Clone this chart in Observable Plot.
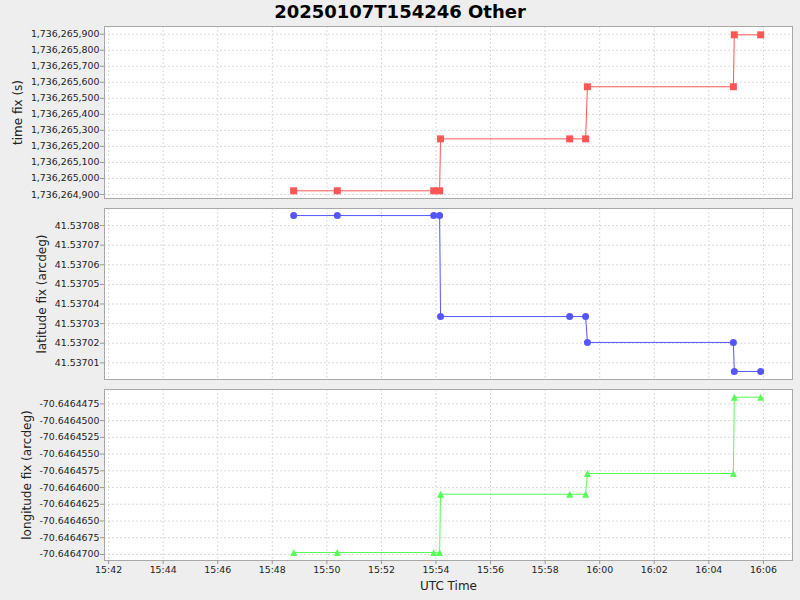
<!DOCTYPE html>
<html><head><meta charset="utf-8">
<script src="https://cdn.jsdelivr.net/npm/d3@7"></script>
<script src="https://cdn.jsdelivr.net/npm/@observablehq/plot@0.6"></script>
<style>
body{margin:0;background:#eeeeee;}
#root{position:relative;width:800px;height:600px;background:#eeeeee;overflow:hidden;font-family:"DejaVu Sans",sans-serif;}
#title{position:absolute;left:0;top:0;width:800px;text-align:center;font-weight:bold;font-size:18px;line-height:23px;color:#000;}
.panel{position:absolute;left:0;}
</style></head><body><div id="root"><div id="title"></div></div>
<script>
const chartTitle = "20250107T154246 Other";
const xAxisLabel = "UTC Time";
const receivedTimes = ["15:48:47","15:50:23","15:53:55","15:54:08","15:54:10","15:58:54","15:59:29","15:59:33","16:04:54","16:04:56","16:05:54"];
const timeFix = [1736264923,1736264923,1736264923,1736264923,1736265247,1736265247,1736265247,1736265572,1736265572,1736265896,1736265896];
const latitudeFix = [41.5370851,41.5370851,41.5370851,41.5370851,41.5370336,41.5370336,41.5370336,41.5370204,41.5370204,41.5370056,41.5370056];
const longitudeFix = [-70.6464697,-70.6464697,-70.6464697,-70.6464697,-70.6464610,-70.6464610,-70.6464610,-70.6464579,-70.6464579,-70.6464465,-70.6464465];
const timeFixTicks = [1736264900,1736265000,1736265100,1736265200,1736265300,1736265400,1736265500,1736265600,1736265700,1736265800,1736265900];
const latitudeTicks = [41.53701,41.53702,41.53703,41.53704,41.53705,41.53706,41.53707,41.53708];
const longitudeTicks = [-70.6464700,-70.6464675,-70.6464650,-70.6464625,-70.6464600,-70.6464575,-70.6464550,-70.6464525,-70.6464500,-70.6464475];
const xTickLabels = ["15:42","15:44","15:46","15:48","15:50","15:52","15:54","15:56","15:58","16:00","16:02","16:04","16:06"];
const xRange = ["15:41:51","16:07:04"];
const day = "2025-01-07";

const toDate = s => new Date(`${day}T${s}${s.length === 5 ? ":00" : ""}Z`);
document.getElementById("title").textContent = chartTitle;

const xDomain = xRange.map(toDate);
const xTicks = xTickLabels.map(toDate);
const times = receivedTimes.map(toDate);

const squareSym = {draw(ctx){ctx.moveTo(-3.5,-3.5);ctx.lineTo(3.5,-3.5);ctx.lineTo(3.5,3.5);ctx.lineTo(-3.5,3.5);ctx.closePath();}};
const triSym = {draw(ctx){ctx.moveTo(0,-3.5);ctx.lineTo(3.5,3.5);ctx.lineTo(-3.5,3.5);ctx.closePath();}};

const gridStyle = {stroke:"#d9d9d9", strokeOpacity:1, strokeDasharray:"2,2", strokeWidth:1};

function panel({values, yDomain, yTicks, yFormat, label, labelX, color, symbol, r, top, height, showX}) {
  const data = times.map((t, i) => ({t, v: values[i]}));
  const mB = showX ? 40 : 10;
  const marks = [
    Plot.frame({fill:"white", stroke:null}),
    Plot.gridX(xTicks, gridStyle),
    Plot.gridY(yTicks, gridStyle),
    Plot.axisY(yTicks, {tickSize:4, tickPadding:1, tickFormat:yFormat, fontSize:9.4, label:null, stroke:"#999", fill:"#222"}),
    Plot.line(data, {x:"t", y:"v", stroke:color, strokeWidth:1}),
    Plot.dot(data, {x:"t", y:"v", symbol, r, fill:color, stroke:"none"}),
    Plot.frame({stroke:"#a8a8a8"}),
    Plot.text([label], {frameAnchor:"left", rotate:-90, dx: labelX - 104, fontSize:12, textAnchor:"middle", lineAnchor:"middle", fill:"#222"})
  ];
  if (showX) {
    marks.push(Plot.axisX(xTicks, {tickSize:4, tickPadding:2, tickFormat:d3.utcFormat("%H:%M"), fontSize:9.4, label:null, stroke:"#999", fill:"#222"}));
    marks.push(Plot.text([xAxisLabel], {frameAnchor:"bottom", dy:25.7, fontSize:12, textAnchor:"middle", lineAnchor:"middle", fill:"#222"}));
  }
  const svg = Plot.plot({
    width:800, height: height + 10 + mB,
    marginLeft:104, marginRight:8, marginTop:10, marginBottom:mB,
    style:{background:"transparent", overflow:"visible", fontFamily:"DejaVu Sans, sans-serif", fontSize:"9.4px"},
    x:{type:"utc", domain:xDomain, axis:null},
    y:{domain:yDomain, axis:null},
    marks
  });
  svg.classList.add("panel");
  svg.style.top = (top - 10) + "px";
  svg.style.position = "absolute";
  document.getElementById("root").appendChild(svg);
}

panel({values:timeFix, yDomain:[1736264875,1736265948], yTicks:timeFixTicks, yFormat:d3.format(",d"), label:"time fix (s)", labelX:18, color:"#ff5555", symbol:squareSym, r:3.5, top:26, height:172, showX:false});
panel({values:latitudeFix, yDomain:[41.5370015,41.5370887], yTicks:latitudeTicks, yFormat:d => d.toFixed(5), label:"latitude fix (arcdeg)", labelX:42, color:"#5555ff", symbol:"circle", r:3.5, top:208, height:171, showX:false});
panel({values:longitudeFix, yDomain:[-70.6464709,-70.64644535], yTicks:longitudeTicks, yFormat:d => d.toFixed(7), label:"longitude fix (arcdeg)", labelX:26.5, color:"#55ff55", symbol:triSym, r:3.5, top:389, height:171, showX:true});
</script></body></html>
